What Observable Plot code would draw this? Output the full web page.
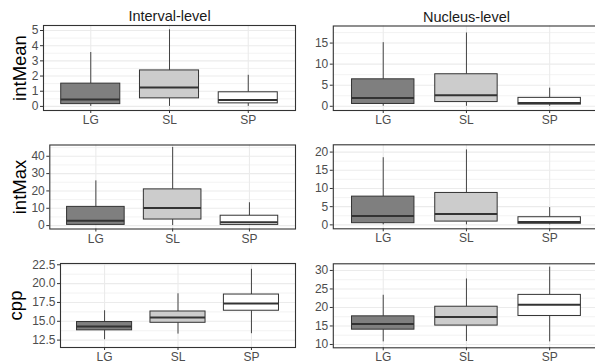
<!DOCTYPE html>
<html>
<head>
<meta charset="utf-8">
<script src="https://cdn.jsdelivr.net/npm/d3@7"></script>
<script src="https://cdn.jsdelivr.net/npm/@observablehq/plot@0.6"></script>
<style>
  html, body { margin: 0; padding: 0; background: white; overflow: hidden; }
  #chart { position: relative; width: 595px; height: 363px; overflow: hidden; background: white; }
</style>
</head>
<body>
<div id="chart"></div>
<script>
// ---- Data (five-number summaries per group: [lowWhisker, Q1, median, Q3, highWhisker]) ----
const groups = ["LG", "SL", "SP"];
const groupFills = ["#7F7F7F", "#CCCCCC", "#FFFFFF"];

const intMeanInterval = [[0, 0.15, 0.45, 1.5, 3.55], [0, 0.53, 1.25, 2.37, 5.05], [0, 0.2, 0.42, 0.93, 2.05]];
const intMeanNucleus  = [[0, 0.55, 1.95, 6.4, 15.1], [0, 1.0, 2.6, 7.6, 17.4], [0, 0.4, 0.8, 2.0, 4.3]];
const intMaxInterval  = [[0, 0.4, 2.8, 10.8, 25.8], [0, 3.5, 10.2, 20.9, 45.1], [0, 0.4, 2.0, 5.7, 13.2]];
const intMaxNucleus   = [[0, 0.46, 2.47, 7.76, 18.45], [0, 0.9, 3.0, 8.77, 20.6], [0, 0.3, 0.8, 2.1, 4.75]];
const cppInterval     = [[12.55, 13.8, 14.3, 14.9, 16.4], [13.3, 14.8, 15.5, 16.3, 18.65], [13.35, 16.4, 17.35, 18.55, 21.9]];
const cppNucleus      = [[10.7, 14.0, 15.5, 17.6, 23.3], [10.8, 15.1, 17.4, 20.2, 27.7], [10.7, 17.7, 20.7, 23.4, 30.9]];

// tick values
const ticksIntMeanInterval = [0, 1, 2, 3, 4, 5];
const minorIntMeanInterval = [0.5, 1.5, 2.5, 3.5, 4.5];
const ticksIntMeanNucleus = [0, 5, 10, 15];
const minorIntMeanNucleus = [2.5, 7.5, 12.5, 17.5];
const ticksIntMaxInterval = [0, 10, 20, 30, 40];
const minorIntMaxInterval = [5, 15, 25, 35, 45];
const ticksIntMaxNucleus = [0, 5, 10, 15, 20];
const minorIntMaxNucleus = [2.5, 7.5, 12.5, 17.5];
const ticksCppInterval = [12.5, 15, 17.5, 20, 22.5];
const minorCppInterval = [13.75, 16.25, 18.75, 21.25];
const ticksCppNucleus = [10, 15, 20, 25, 30];
const minorCppNucleus = [12.5, 17.5, 22.5, 27.5];

const stripTitles = ["Interval-level", "Nucleus-level"];
const rowTitles = ["intMean", "intMax", "cpp"];

// ---- Drawing ----
const FONT = "'Liberation Sans', Arial, Helvetica, sans-serif";
const INK = "#333333";
const GRID = "#EBEBEB";

function panel(cfg) {
  const {stats, domain, ticks, minor, fmt, L, R, T, B, sx, sy, strip, title, titleX} = cfg;
  const data = groups.map((g, i) => ({
    g, lo: stats[i][0], q1: stats[i][1], med: stats[i][2], q3: stats[i][3], hi: stats[i][4], fill: groupFills[i]
  }));
  const width = Math.ceil(R + 8 - sx);
  const height = Math.ceil(B + 24 - sy);
  const marks = [
    Plot.gridY(minor, {stroke: GRID, strokeOpacity: 1, strokeWidth: 0.6}),
    Plot.gridY(ticks, {stroke: GRID, strokeOpacity: 1, strokeWidth: 1.1}),
    Plot.gridX(groups, {stroke: GRID, strokeOpacity: 1, strokeWidth: 1.1}),
    Plot.ruleX(data, {x: "g", y1: "q3", y2: "hi", stroke: "#444", strokeWidth: 1}),
    Plot.ruleX(data, {x: "g", y1: "lo", y2: "q1", stroke: "#444", strokeWidth: 1}),
    Plot.barY(data, {x: "g", y1: "q1", y2: "q3", fill: "fill", stroke: INK, strokeWidth: 1, inset: 0}),
    Plot.tickY(data, {x: "g", y: "med", stroke: INK, strokeWidth: 2}),
    Plot.frame({stroke: INK, strokeWidth: 1.1}),
    Plot.axisY(ticks, {tickSize: 3, tickPadding: 2, fontSize: 12, stroke: INK, fill: "#4D4D4D", tickFormat: fmt, label: null}),
    Plot.axisX(groups, {tickSize: 3, tickPadding: 2, fontSize: 12, stroke: INK, fill: "#4D4D4D", label: null})
  ];
  if (strip) {
    marks.push(Plot.text([strip], {text: d => d, frameAnchor: "top", textAnchor: "middle", dy: -4.5, lineAnchor: "bottom", fontSize: 14.5, fill: "#1A1A1A"}));
  }
  if (title) {
    marks.push(Plot.text([title], {text: d => d, frameAnchor: "left", textAnchor: "middle", dx: titleX - L, rotate: -90, lineAnchor: "bottom", fontSize: 18.5, fill: "#000"}));
  }
  const svg = Plot.plot({
    width, height,
    marginLeft: L - sx, marginRight: width - (R - sx),
    marginTop: T - sy, marginBottom: height - (B - sy),
    style: {fontFamily: FONT, background: "transparent", overflow: "visible", maxWidth: "none"},
    x: {type: "band", domain: groups, paddingInner: 0.25, paddingOuter: 0.225, align: 0.5, round: false, axis: null},
    y: {domain, axis: null},
    marks
  });
  svg.style.position = "absolute";
  svg.style.left = sx + "px";
  svg.style.top = sy + "px";
  document.getElementById("chart").appendChild(svg);
}

const fmt0 = d3.format("d");
const fmt1 = d3.format(".1f");

panel({stats: intMeanInterval, domain: [-0.27, 5.33], ticks: ticksIntMeanInterval, minor: minorIntMeanInterval, fmt: fmt0,
  L: 43, R: 295, T: 25, B: 110, sx: 0, sy: 0, strip: stripTitles[0], title: rowTitles[0], titleX: 25});
panel({stats: intMeanNucleus, domain: [-1.0, 19.05], ticks: ticksIntMeanNucleus, minor: minorIntMeanNucleus, fmt: fmt0,
  L: 332.3, R: 598.6, T: 25.5, B: 110, sx: 297.5, sy: 0, strip: stripTitles[1]});
panel({stats: intMaxInterval, domain: [-1.96, 46.5], ticks: ticksIntMaxInterval, minor: minorIntMaxInterval, fmt: fmt0,
  L: 49.3, R: 295, T: 144.5, B: 228.5, sx: 0, sy: 121, title: rowTitles[1], titleX: 25});
panel({stats: intMaxNucleus, domain: [-1.08, 22.0], ticks: ticksIntMaxNucleus, minor: minorIntMaxNucleus, fmt: fmt0,
  L: 332.3, R: 598.6, T: 144.3, B: 228.3, sx: 297.5, sy: 121});
panel({stats: cppInterval, domain: [11.52, 22.67], ticks: ticksCppInterval, minor: minorCppInterval, fmt: fmt1,
  L: 60, R: 295, T: 263, B: 347, sx: 0, sy: 242, title: rowTitles[2], titleX: 21});
panel({stats: cppNucleus, domain: [9.1, 31.8], ticks: ticksCppNucleus, minor: minorCppNucleus, fmt: fmt0,
  L: 332.3, R: 598.6, T: 263.3, B: 347.3, sx: 297.5, sy: 242});
</script>
</body>
</html>
